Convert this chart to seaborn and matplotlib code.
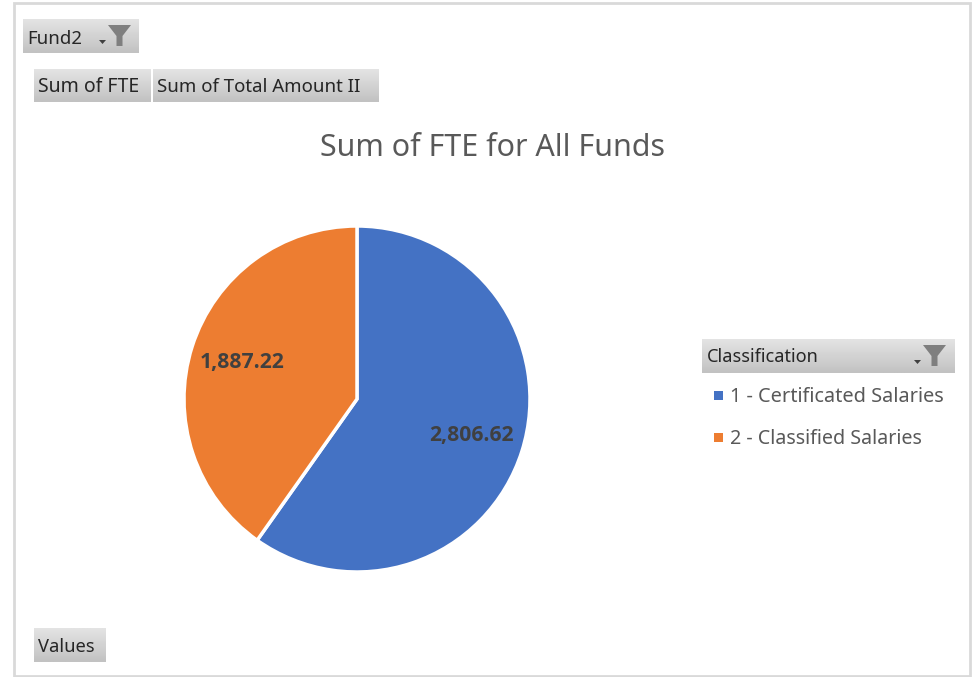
import numpy as np
import matplotlib
matplotlib.use("Agg")
import matplotlib.pyplot as plt
from matplotlib.patches import Rectangle, Polygon
import seaborn as sns

# pie data
categories = ["1 - Certificated Salaries", "2 - Classified Salaries"]
fte_values = [2806.62, 1887.22]
value_labels = ["2,806.62", "1,887.22"]
chart_title = "Sum of FTE for All Funds"

W, H = 973, 677

sns.set_theme(style="white")
plt.rcParams["font.family"] = ["Noto Sans", "DejaVu Sans"]
colors = sns.color_palette(["#4472C4", "#ED7D31"])

fig = plt.figure(figsize=(W / 100, H / 100), dpi=100, facecolor="white")

# overlay in pixel coords for the pivot buttons and frame
bg = fig.add_axes([0, 0, 1, 1])
bg.set_axis_off()
gradient = np.linspace(0.89, 0.76, 32).reshape(-1, 1)


def button(x0, y0, x1, y1):
    bg.imshow(gradient, extent=[x0, x1, y1, y0], cmap="gray", vmin=0, vmax=1,
              aspect="auto", zorder=2)


def funnel(x, y):
    pts = [(x, y), (x + 23, y), (x + 14.5, y + 11), (x + 14.5, y + 21), (x + 8.5, y + 21), (x + 8.5, y + 11)]
    bg.add_patch(Polygon(pts, closed=True, fc="#7f7f7f", ec="none", zorder=3))
    arrow = [(x - 9, y + 15), (x - 2, y + 15), (x - 5.5, y + 19)]
    bg.add_patch(Polygon(arrow, closed=True, fc="#404040", ec="none", zorder=3))


# buttons
button(23, 19, 139, 53)
button(34, 69, 151, 102)
button(153, 69, 379, 102)
button(34, 628, 106, 662)
button(702, 339, 955, 373)
funnel(108, 25)
funnel(923, 345)

btn_kw = dict(color="#262626", va="center", ha="left", zorder=4)
bg.text(27, 38.5, "Fund2", fontsize=13.4, **btn_kw)
bg.text(38, 87.5, "Sum of FTE", fontsize=14, **btn_kw)
bg.text(157, 87.5, "Sum of Total Amount II", fontsize=13.45, **btn_kw)
bg.text(38, 646.5, "Values", fontsize=13.2, **btn_kw)
bg.text(707, 357.5, "Classification", fontsize=13.1, **btn_kw)

# frame
bg.add_patch(Rectangle((13.5, 3), W - 17, H - 4, fc="none", ec="#d9d9d9", lw=2, zorder=1))

bg.text(492.5, 148, chart_title, fontsize=21.9, color="#595959", ha="center", va="center")

# legend entries
legend_y = [397, 439]
legend_sizes = [14.35, 14.15]
for name, col, y, fs in zip(categories, colors, legend_y, legend_sizes):
    bg.add_patch(Rectangle((714, y - 6), 9, 9, fc=col, ec="none"))
    bg.text(730, y, name, fontsize=fs, color="#595959", va="center", ha="left")

bg.set_xlim(0, W)
bg.set_ylim(H, 0)

# pie axes, centre (357, 399), radius 172 px
cx, cy, r = 357, 399, 173
ax = fig.add_axes([(cx - r) / W, 1 - (cy + r) / H, 2 * r / W, 2 * r / H])
label_iter = iter(value_labels)
wedges, _, autotexts = ax.pie(
    fte_values,
    colors=colors,
    startangle=90,
    counterclock=False,
    radius=1.0,
    autopct=lambda p: next(label_iter),
    pctdistance=0.695,
    wedgeprops={"edgecolor": "white", "linewidth": 2.5},
    textprops={"fontsize": 15.2, "color": "#404040"},
)
for t in autotexts:
    t.set_family(["Open Sans", "DejaVu Sans"])
    t.set_fontweight("bold")
ax.set_xlim(-1, 1)
ax.set_ylim(-1, 1)

plt.savefig("out.png", dpi=100)
plt.close()
